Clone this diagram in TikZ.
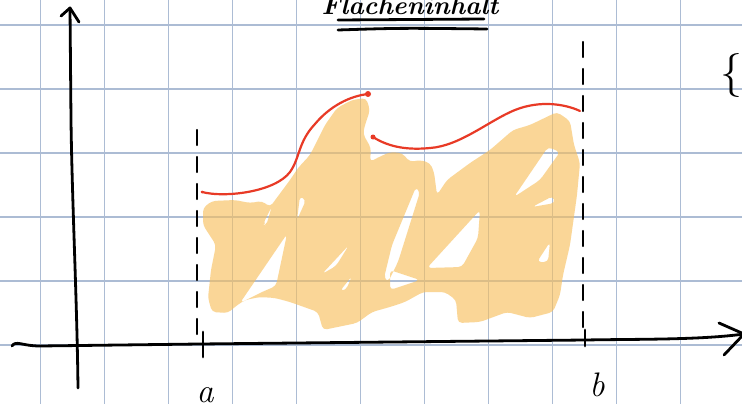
\documentclass[tikz,border=0pt]{standalone}
\usepackage{fontspec}
\usetikzlibrary{arrows.meta}
\definecolor{gridc}{RGB}{172,188,212}
\definecolor{fillc}{RGB}{248,190,88}
\definecolor{redc}{RGB}{232,58,38}
\newcommand{\areaouter}{%
  (203,208) -- (212,201) -- (235,200) -- (250,203) -- (262,201) -- (270,207) -- (290,180)
  -- (298,168) -- (310,155) -- (325,125) -- (337,108) -- (352,100) -- (366,98) -- (370,110)
  -- (365,125) -- (363,134) -- (371,148) -- (370,162) -- (377,158) -- (390,152) -- (402,153)
  -- (410,162) -- (420,160) -- (430,163) -- (434,172) -- (437,195) -- (447,180) -- (470,163)
  -- (490,150) -- (513,130) -- (530,125) -- (557,112) -- (570,121) -- (574,145) -- (580,163)
  -- (577,195) -- (570,245) -- (563,275) -- (560,295) -- (553,312) -- (530,318) -- (507,312)
  -- (480,322) -- (458,323) -- (456,300) -- (445,292) -- (423,292) -- (405,302) -- (390,307)
  -- (372,312) -- (357,323) -- (323,330) -- (318,312) -- (290,302) -- (275,298) -- (260,297)
  -- (245,300) -- (236,306) -- (228,313) -- (212,312) -- (208,298) -- (211,270) -- (216,245)
  -- (203,225) -- cycle}
\newcommand{\areaholes}{%
  (287,234) -- (276,286) -- (262,292) -- (240,303) -- cycle
  (272,206) -- (266,226) -- (263,224) -- cycle
  (300,196) -- (306,200) -- (297,220) -- cycle
  (349,245) -- (322,274) -- (336,266) -- cycle
  (352,276) -- (340,291) -- (346,290) -- cycle
  (416,187) -- (420,192) -- (398,262) -- (388,282) -- (384,278) -- (392,245) -- cycle
  (480,210) -- (478,238) -- (462,267) -- (427,268) -- cycle
  (390,270) -- (420,280) -- (390,290) -- cycle
  (548,147) -- (560,152) -- (540,180) -- (514,197) -- cycle
  (553,196) -- (555,203) -- (532,207) -- cycle
  (550,242) -- (548,262) -- (537,262) -- cycle}
\begin{document}
\begin{tikzpicture}[x=1pt,y=-1pt,
  gridline/.style={gridc, line width=1.1pt},
  pen/.style={black, line width=2.8pt, line cap=round, line join=round},
  redpen/.style={redc, line width=2.2pt, line cap=round},
  shade/.style={fill=fillc, fill opacity=0.62, even odd rule, rounded corners=4pt},
  bound/.style={black, line width=2.4pt, dash pattern=on 15pt off 12pt, line cap=round},
  hand/.style={font=\fontsize{34}{34}\selectfont\itshape, inner sep=0pt},
  titlef/.style={font=\fontsize{26}{26}\selectfont\bfseries\itshape, inner sep=0pt}]
\useasboundingbox (0,0) rectangle (742,404);
\fill[white] (0,0) rectangle (742,404);
% grid
\foreach \x in {40.5,104.5,...,700} \draw[gridline] (\x,0) -- (\x,404);
\foreach \y in {25,89,...,350} \draw[gridline] (0,\y) -- (742,\y);
% shaded area
\path[shade] \areaouter \areaholes;
% bounds
\coordinate (la) at (197,130);
\coordinate (la2) at (197,340);
\coordinate (lb) at (583,42);
\coordinate (lb2) at (583,330);
\draw[bound] (la) -- (la2);
\draw[bound] (lb) -- (lb2);
% red curve
\coordinate (r0) at (202,192);
\coordinate (r1) at (368,94);
\coordinate (r2) at (373,137);
\coordinate (r3) at (580,111);
\draw[redpen] (r0) .. controls (225,198) and (275,192) .. (290,172)
  .. controls (300,158) and (298,142) .. (315,124) .. controls (330,106) and (350,96) .. (r1);
\draw[redpen] (r2) .. controls (390,148) and (410,150) .. (430,148)
  .. controls (460,146) and (490,120) .. (515,110) .. controls (540,100) and (565,104) .. (r3);
\fill[redc] (r1) circle (3pt);
\fill[redc] (r2) circle (2.5pt);
\fill[redc] (r0) circle (1.5pt);
% axes
\coordinate (yb) at (78,388);
\coordinate (yt) at (70,8);
\draw[pen] (yb) .. controls (77,300) and (72,200) .. (71,120) -- (yt);
\draw[pen] (61,16) -- (yt) -- (79,22);
\coordinate (xl) at (12,346);
\coordinate (xr) at (744,334);
\draw[pen] (xl) .. controls (16,340) and (22,346) .. (40,346) -- (200,344) -- (585,340) .. controls (640,339) and (700,340) .. (xr);
\draw[pen] (719,323) -- (xr) -- (724,355);
% ticks
\coordinate (ta) at (203,332);
\coordinate (ta2) at (203,357);
\coordinate (tb) at (585,330);
\coordinate (tb2) at (585,346);
\draw[pen] (ta) -- (ta2);
\draw[pen] (tb) -- (tb2);
\node[hand, anchor=base] (a) at (205,402) {a};
\node[hand, anchor=base] (b) at (597,396) {b};
% title
\node[titlef, anchor=base] (title) at (410,15) {Flächeninhalt};
\draw[pen] (338,20) -- (484,19);
\draw[pen] (338,30) .. controls (400,28) .. (487,29);
% bracket
\node[font=\fontsize{44}{44}\selectfont, inner sep=0pt] (br) at (731,75) {\{};
\end{tikzpicture}
\end{document}
